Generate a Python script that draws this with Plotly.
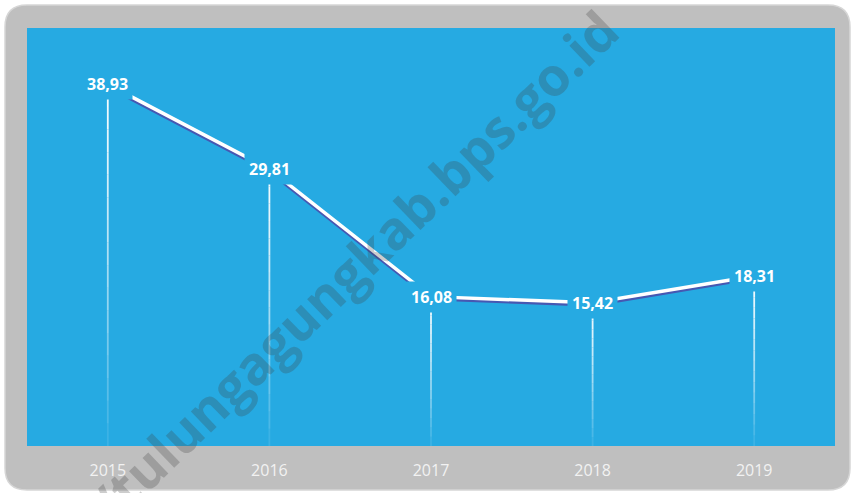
import plotly.graph_objects as go

years = ["2015", "2016", "2017", "2018", "2019"]
values = [38.93, 29.81, 16.08, 15.42, 18.31]
labels = ["38,93", "29,81", "16,08", "15,42", "18,31"]

W, H = 852, 493
L, R, T, B = 27, 17, 28, 47
PW, PH = W - L - R, H - T - B
BLUE = "#26AAE2"
GRAY = "#BFBFBF"
YMAX = 45
px_per_unit = PH / YMAX
shadow_shift = 2.2 / px_per_unit


def px2paper(x, y):
    return (x - L) / PW, (H - B - y) / PH


def rounded_rect(x0, y0, x1, y1, r):
    def P(x, y):
        a, b = px2paper(x, y)
        return f"{a:.5f},{b:.5f}"
    return (
        f"M {P(x0 + r, y0)} L {P(x1 - r, y0)} Q {P(x1, y0)} {P(x1, y0 + r)} "
        f"L {P(x1, y1 - r)} Q {P(x1, y1)} {P(x1 - r, y1)} "
        f"L {P(x0 + r, y1)} Q {P(x0, y1)} {P(x0, y1 - r)} "
        f"L {P(x0, y0 + r)} Q {P(x0, y0)} {P(x0 + r, y0)} Z"
    )


fig = go.Figure()

# shadow of the line (slightly below the white line)
fig.add_trace(go.Scatter(
    x=years, y=[v - shadow_shift for v in values], mode="lines",
    line=dict(color="rgb(70,88,178)", width=3.5), hoverinfo="skip", showlegend=False))

# drop lines with fading opacity
N = 16
for yr, v in zip(years, values):
    for k in range(N):
        y_top = v * (1 - k / N)
        y_bot = v * (1 - (k + 1) / N)
        op = 0.95 - 0.85 * (k / (N - 1)) ** 1.3
        fig.add_trace(go.Scatter(
            x=[yr, yr], y=[y_top, y_bot], mode="lines",
            line=dict(color=f"rgba(255,255,255,{op:.3f})", width=1.8),
            hoverinfo="skip", showlegend=False))

# main white line
fig.add_trace(go.Scatter(
    x=years, y=values, mode="lines",
    line=dict(color="white", width=3.5), hoverinfo="skip", showlegend=False))

shapes = [
    dict(type="path", xref="paper", yref="paper", layer="below",
         path=rounded_rect(5, 5, 850, 490, 22),
         fillcolor=GRAY, line=dict(color="#D6D6D6", width=1.5)),
    dict(type="rect", xref="paper", yref="paper", layer="below",
         x0=0, x1=1, y0=0, y1=1, fillcolor=BLUE, line=dict(width=0)),
]

annotations = []
for i, (v, lab) in enumerate(zip(values, labels)):
    annotations.append(dict(
        x=i, y=v, xref="x", yref="y", text="<b>" + lab + "</b>", showarrow=False,
        font=dict(family="Open Sans", size=16, color="white"),
        xanchor="center", yanchor="middle",
        bgcolor=BLUE, borderpad=4))

wx, wy = px2paper(299, 318)
annotations.append(dict(
    x=wx, y=wy, xref="paper", yref="paper", text="<b>http://tulungagungkab.bps.go.id</b>",
    showarrow=False, textangle=-44, xanchor="center", yanchor="middle",
    font=dict(family="Open Sans", size=53, color="rgba(60,60,60,0.26)")))

fig.update_layout(
    width=W, height=H,
    margin=dict(l=L, r=R, t=T, b=B),
    paper_bgcolor="white", plot_bgcolor="rgba(0,0,0,0)",
    shapes=shapes, annotations=annotations,
    xaxis=dict(type="category", range=[-0.5, 4.5], showgrid=False, zeroline=False,
               showline=False, ticks="outside", ticklen=10, tickcolor="rgba(0,0,0,0)",
               tickfont=dict(family="Open Sans", size=16, color="#F2F2F2")),
    yaxis=dict(range=[0, YMAX], visible=False),
)

fig.write_html("out.html", config={"displayModeBar": False},
               post_script="document.body.style.margin='0';document.body.style.overflow='hidden';")
